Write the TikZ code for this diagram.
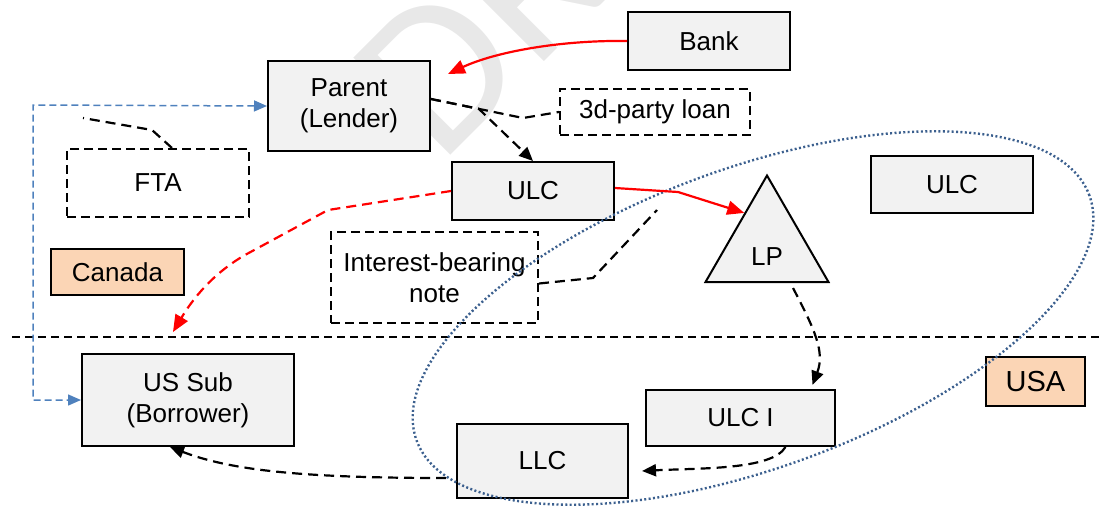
\documentclass[tikz,border=0pt]{standalone}
\usepackage{fontspec}
\setmainfont{Liberation Sans}
\newfontfamily\wmfont{Carlito}
\usetikzlibrary{arrows.meta,shapes.geometric,calc}
\definecolor{boxfill}{HTML}{F2F2F2}
\definecolor{peach}{HTML}{FBD5B5}
\definecolor{linkblue}{HTML}{4F81BD}
\definecolor{usblue}{HTML}{3B5F8E}
\definecolor{wmgray}{HTML}{E8E8E8}
\begin{document}
\begin{tikzpicture}[x=1pt,y=-1pt,
  font=\fontsize{26}{31}\selectfont,
  entity/.style={draw=black, line width=2pt, fill=boxfill, inner sep=0pt, align=center},
  notebox/.style={draw=black, line width=2pt, dash pattern=on 9pt off 5pt, inner sep=0pt, align=center},
  region/.style={draw=black, line width=1.2pt, fill=peach, inner sep=0pt},
  flow/.style={line width=2.2pt, dash pattern=on 10pt off 6pt, -{Triangle[length=14pt,width=12pt]}},
  callout/.style={line width=2.2pt, dash pattern=on 10pt off 6pt},
  money/.style={red, line width=2.2pt, -{Triangle[length=17pt,width=14pt]}},
  moneydash/.style={money, dash pattern=on 10pt off 6pt},
  link/.style={linkblue, line width=1.5pt, dash pattern=on 7pt off 4pt,
    {Triangle[length=13pt,width=11pt]}-{Triangle[length=13pt,width=11pt]}},
  border/.style={black, line width=1.5pt, dash pattern=on 8pt off 5pt},
  usgroup/.style={usblue, line width=2.4pt, dash pattern=on 2pt off 2.4pt}
]
\useasboundingbox (0,0) rectangle (1100,515);

% watermark
\begin{scope}
  \clip (0,0) rectangle (1100,515);
  \node[rotate=45, anchor=base west, inner sep=0pt, text=wmgray,
        font=\wmfont\fontsize{214}{214}\selectfont] (wm) at (440,165.5) {DRAFT};
\end{scope}

% Canada / USA border
\coordinate (sepL) at (12,337);
\coordinate (sepR) at (1100,337);
\draw[border] (sepL) -- (sepR);

% entities
\node[entity, minimum width=162pt, minimum height=58pt] (Bank) at (709,41) {Bank};
\node[entity, minimum width=162pt, minimum height=90pt] (Parent) at (349,106) {Parent\\(Lender)};
\node[entity, minimum width=162pt, minimum height=58pt] (ULC) at (533,191) {ULC};
\node[entity, minimum width=162pt, minimum height=57pt] (ULCR) at (952,184.5) {ULC};
\node[entity, minimum width=212pt, minimum height=92pt] (USSub) at (188,400) {US Sub\\(Borrower)};
\node[entity, minimum width=189pt, minimum height=56pt] (ULCI) at (740.5,418) {ULC I};
\node[entity, minimum width=171pt, minimum height=74pt] (LLC) at (542.5,461) {LLC};
\node[entity, regular polygon, regular polygon sides=3, minimum size=142pt] (LP) at (767,246.5) {};
\node[inner sep=0pt] (LPtext) at (767,257) {LP};

% notes
\node[notebox, minimum width=190pt, minimum height=46pt] (TP) at (655,112) {3d-party loan};
\node[notebox, minimum width=182pt, minimum height=68pt] (FTA) at (158,183) {FTA};
\node[notebox, minimum width=207pt, minimum height=91pt] (NOTE) at (434.5,277.5) {Interest-bearing\\note};

% regions
\node[region, minimum width=133pt, minimum height=46pt] (Canada) at (117.5,272) {Canada};
\node[region, minimum width=99pt, minimum height=49pt, font=\fontsize{29}{34}\selectfont] (USA) at (1035.5,381.5) {USA};

% US group
\coordinate (usc) at (753,318);
\draw[usgroup, rotate around={20:(usc)}] (usc) ellipse [x radius=358pt, y radius=150pt];

% callouts (the loan callout shares its first leg with the Parent -> ULC flow)
\coordinate (pstart) at ([yshift=7pt]Parent.east);
\coordinate (tpbend) at (523,118);
\draw[callout] (pstart) -- (tpbend) -- (TP.west);
\coordinate (ftabend) at (152,130);
\coordinate (ftaend) at (83,118);
\draw[callout] ([xshift=14pt]FTA.north) -- (ftabend) -- (ftaend);
\coordinate (notebend) at (593,278);
\coordinate (noteend) at (657,210);
\draw[callout] ([yshift=-6pt]NOTE.east) -- (notebend) -- (noteend);

% loan flows
\coordinate (ptip) at (448,74);
\draw[money] (Bank.west) .. controls (560,40) and (495,52) .. (ptip);
\coordinate (redbend) at (678,192);
\draw[money] ([yshift=3pt]ULC.east) -- (redbend) -- ($(LP.corner 1)!0.36!(LP.corner 2)$);
\coordinate (rd1) at (328,210);
\coordinate (rd2) at (245,255);
\coordinate (ustip) at (173,332);
\draw[moneydash] (ULC.west) -- (rd1) -- (rd2) .. controls (212,274) and (192,300) .. (ustip);

% ownership / transfer flows
\coordinate (pbend) at ($(pstart)!0.52!(tpbend)$);
\draw[flow] (pstart) -- (pbend) -- (ULC.north);
\draw[flow] ([shift={(26pt,-5pt)}]LP.south) .. controls (815,330) and (825,352) .. ([shift={(72pt,4pt)}]ULCI.north);
\draw[flow] ([xshift=45pt]ULCI.south) .. controls (772,470) and (700,468) .. ([shift={(13pt,-10pt)}]LLC.east);
\draw[flow] ([shift={(-10pt,-17pt)}]LLC.west) .. controls (300,478) and (230,470) .. ([xshift=-18pt]USSub.south);

% agreement link
\coordinate (bluecorner) at (33,105);
\draw[link] (Parent.west) -- (bluecorner) |- (USSub.west);
\end{tikzpicture}
\end{document}
